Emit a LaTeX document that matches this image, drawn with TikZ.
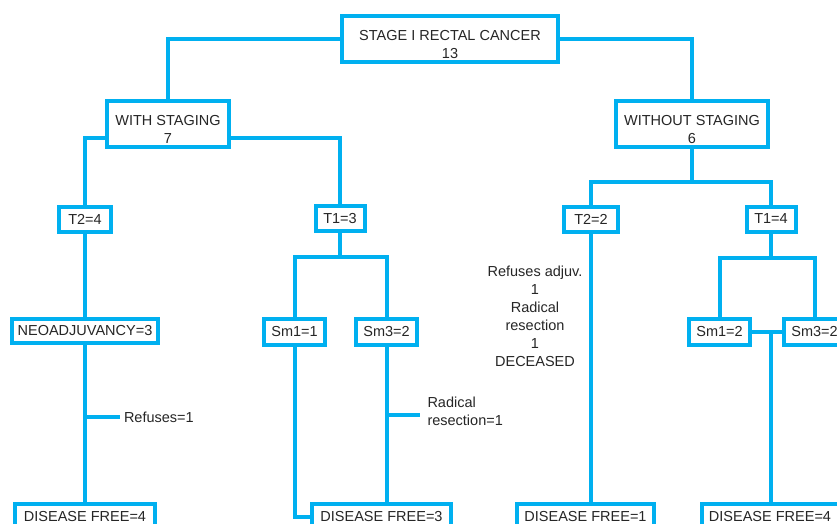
\documentclass[tikz,border=0pt]{standalone}
\usepackage{fontspec}
\setmainfont{Liberation Sans}
\usepackage{tikz}
\usetikzlibrary{calc}
\usetikzlibrary{arrows, arrows.meta, positioning, shapes}
\definecolor{skyline}{RGB}{0,176,240}
\newcommand{\topgap}{\rule{0pt}{21pt}}

\begin{document}
\begin{tikzpicture}[x=1pt, y=-1pt, node distance=85pt]

% Define block styles
\tikzstyle{box} = [rectangle, draw=skyline, line width=4pt, fill=white, text=black!85,
font=\fontsize{14.5}{18}\selectfont, inner sep=0pt, align=center, minimum height=25pt]
\tikzstyle{bigbox} = [box, minimum height=46pt]
\tikzstyle{smbox} = [box, minimum width=61pt, minimum height=26pt]
\tikzstyle{freebox} = [box, minimum height=26pt]
\tikzstyle{line} = [draw, line width=4pt, color=skyline]
\tikzstyle{note} = [text=black!85, font=\fontsize{14.5}{18}\selectfont, inner sep=0pt]

\useasboundingbox (0,0) rectangle (837,524);
\fill [white] (0,0) rectangle (837,524);
\clip (0,0) rectangle (837,524);

% Nodes
\node [bigbox, minimum width=216pt] (stage) at (450,39) {\topgap STAGE I RECTAL CANCER\\13};
\node [bigbox, minimum width=122pt, below of=stage, xshift=-282pt] (withst) {\topgap WITH STAGING\\7};
\node [bigbox, minimum width=152pt, below of=stage, xshift=242pt] (without) {\topgap WITHOUT STAGING\\6};

\node [box, minimum width=52pt, node distance=95.5pt, below of=withst, xshift=-83pt] (wt2) {T2=4};
\node [box, minimum width=49pt, node distance=94.5pt, below of=withst, xshift=172pt] (wt1) {T1=3};
\node [box, minimum width=54pt, node distance=95pt, below of=without, xshift=-101pt] (wot2) {T2=2};
\node [box, minimum width=49pt, node distance=95pt, below of=without, xshift=79pt] (wot1) {T1=4};

\node [box, minimum width=146pt, minimum height=24pt, node distance=111.5pt, below of=wt2] (neo) {NEOADJUVANCY=3};
\node [smbox, node distance=113.5pt, below of=wt1, xshift=-45.5pt] (sma1) {Sm1=1};
\node [smbox, node distance=92pt, right of=sma1] (sma3) {Sm3=2};
\node [smbox, node distance=113pt, below of=wot1, xshift=-51.5pt] (smb1) {Sm1=2};
\node [smbox, node distance=95pt, right of=smb1] (smb3) {Sm3=2};

\node [freebox, minimum width=140pt, node distance=186pt, below of=neo] (dfa) {DISEASE FREE=4};
\node [freebox, minimum width=139pt, node distance=185pt, below of=sma3, xshift=-5pt] (dfb) {DISEASE FREE=3};
\node [freebox, minimum width=137pt, node distance=298pt, below of=wot2, xshift=-5.5pt] (dfc) {DISEASE FREE=1};
\node [freebox, minimum width=137pt, node distance=298pt, below of=wot1, xshift=-1pt] (dfd) {DISEASE FREE=4};

\node [note, align=center, node distance=97pt, below of=wot2, xshift=-56pt] (deceased)
{Refuses adjuv.\\1\\Radical\\resection\\1\\DECEASED};

% Paths
\path [line] (stage.west) -| (withst.north);
\path [line] (stage.east) -| (without.north);
\path [line] ([yshift=11pt]withst.south west) -| (wt2.north);
\path [line] ([yshift=11pt]withst.south east) -| (wt1.north);
\path [line] (without.south) -- ++(0,33) coordinate (splitwo);
\path [line] (wot2.north) |- (splitwo) -| (wot1.north);

\path [line] (wt2.south) -- (neo.north);
\path [line] (neo.south) -- coordinate[pos=0.46] (refuse) (dfa.north);
\path [line] (refuse) -- ++(35,0) node [note, right=2pt] (refusetxt) {Refuses=1};

\path [line] (wt1.south) -- ++(0,24) coordinate (splitwt);
\path [line] (sma1.north) |- (splitwt) -| (sma3.north);
\path [line] (sma1.south) |- (dfb.west);
\path [line] (sma3.south) -- coordinate[pos=0.44] (radical) (sma3.south |- dfb.north);
\path [line] (radical) -- ++(33,0) node [note, right=6pt, yshift=4pt, align=left] (radicaltxt) {Radical\\resection=1};

\path [line] (wot2.south) -- (wot2.south |- dfc.north);

\path [line] (wot1.south) -- ++(0,24) coordinate (splitt1);
\path [line] (smb1.north) |- (splitt1) -| (smb3.north);
\path [line] (smb1.east) -- coordinate[pos=0.62] (join) (smb3.west);
\path [line] (join) -- (join |- dfd.north);
\end{tikzpicture}
\end{document}
